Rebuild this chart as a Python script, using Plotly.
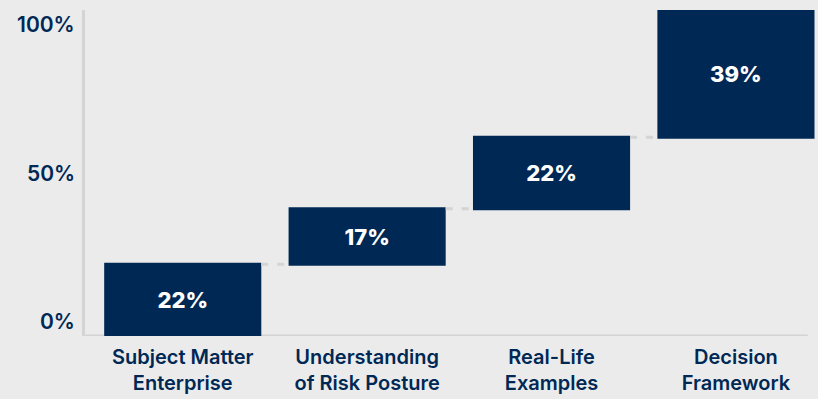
import plotly.graph_objects as go

# Share of respondents by factor, stacked as a running total to 100%
categories = ["Subject Matter<br>Enterprise", "Understanding<br>of Risk Posture",
              "Real-Life<br>Examples", "Decision<br>Framework"]
shares = [22, 17, 22, 39]
y_tick_values = [0, 50, 100]
y_tick_labels = ["0%", "50%", "100%"]

NAVY = "#002855"
BG = "#ebebeb"
GRID_LINE = "#d4d4d4"

fig = go.Figure(
    go.Waterfall(
        x=categories,
        y=shares,
        measure=["relative"] * len(shares),
        text=[f"{v}%" for v in shares],
        textposition="inside",
        insidetextanchor="middle",
        textfont=dict(family="Inter", size=22, color="white", weight=800),
        increasing=dict(marker=dict(color=NAVY)),
        width=0.852,
        connector=dict(mode="between",
                       line=dict(color=GRID_LINE, width=3, dash="7px,9px")),
        hoverinfo="skip",
    )
)

# y labels: the end labels are tucked inside the axis span, the middle one centred
label_anchor = {0: "bottom", 50: "middle", 100: "top"}
y_labels = [
    dict(xref="paper", x=0, xanchor="right", xshift=-8,
         yref="y", y=v, yanchor=label_anchor[v],
         text=t, showarrow=False,
         font=dict(family="Inter", size=21, color=NAVY, weight=600))
    for v, t in zip(y_tick_values, y_tick_labels)
]

fig.update_layout(
    width=818, height=399,
    margin=dict(l=85, r=0, t=10, b=63),
    paper_bgcolor=BG, plot_bgcolor=BG,
    showlegend=False,
    font=dict(family="Inter", color=NAVY),
    xaxis=dict(
        type="category",
        range=[-0.53, 3.445],
        automargin=False,
        showline=False, showgrid=False, zeroline=False,
        ticks="", ticklabelstandoff=7,
        tickfont=dict(family="Inter", size=20, color=NAVY, weight=600),
    ),
    yaxis=dict(
        range=[0, 100.01],
        automargin=False,
        showticklabels=False,
        showgrid=False, zeroline=False,
        showline=True, linecolor=GRID_LINE, linewidth=3,
        ticks="",
    ),
    annotations=y_labels,
    shapes=[dict(type="line", xref="paper", yref="y",
                 x0=0, x1=0.986, y0=0, y1=0,
                 line=dict(color=GRID_LINE, width=3), layer="below")],
)

fig.write_html("out.html")
